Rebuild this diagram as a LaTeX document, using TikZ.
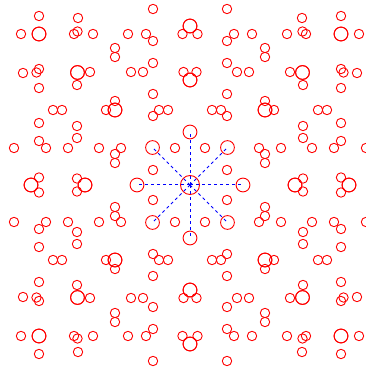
\documentclass[tikz,border=0pt]{standalone}
\begin{document}
\begin{tikzpicture}[x=1pt,y=1pt,
  dot/.style={draw=red,line width=0.9pt},
  ringc/.style={circle,draw=red,line width=0.9pt,inner sep=0pt,minimum size=13.8pt},
  hub/.style={circle,draw=red,line width=0.9pt,inner sep=0pt,minimum size=19pt},
  spoke/.style={draw=blue,line width=1pt,dash pattern=on 3pt off 3pt}]
\useasboundingbox (-190,-184) rectangle (176,185);
\clip (-190,-184) rectangle (176,185);
\foreach \x/\y/\r in {105/0/6.9, 159/0/6.9, 113/6.5/4.7, 151/7.5/4.7, 37/15/4.7,
  69/37/4.7, 122/37/4.7, 91/37/4.7, 144/37/4.7, 176/37/4.7, 75/31/4.7, 75/22/4.7,
  151/44/4.7, 113/47/4.7, 113/59/4.7, 151/62/4.7, 75/75/6.9, 84/75/4.7, 137/75/4.7,
  128/75/4.7, 113/100/4.7, 112.5/112.5/6.9, 151/97/4.7, 151/116/4.7, 153.5/112.5/4.7,
  167/112/4.7, 151/151/6.9, 169/151/4.7} {
  \foreach \sx in {1,-1} {
    \foreach \sy in {1,-1} {
      \draw[dot] (\sx*\x,\sy*\y) circle[radius=\r pt];
      \draw[dot] (\sx*\y,\sy*\x) circle[radius=\r pt];
    }
  }
}
\node[hub] (c0) at (0,0) {};
\foreach \a [count=\i] in {0,45,...,315} \node[ringc] (r\i) at (\a:53) {};
\foreach \i in {1,...,8} \draw[spoke] (c0.center) -- (r\i.center);
\end{tikzpicture}
\end{document}
